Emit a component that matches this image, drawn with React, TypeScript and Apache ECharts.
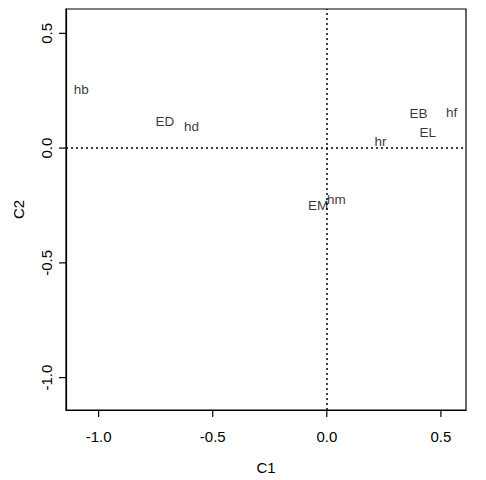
import React, { useEffect, useRef } from "react";
import * as echarts from "echarts";

const labels = ["hb", "ED", "hd", "EB", "hf", "EL", "hr", "EM", "hm"];
const c1 = [-1.076, -0.71, -0.593, 0.402, 0.547, 0.442, 0.235, -0.038, 0.042];
const c2 = [0.257, 0.115, 0.096, 0.149, 0.154, 0.067, 0.028, -0.25, -0.226];
const xTicks = [-1.0, -0.5, 0.0, 0.5];
const yTicks = [-1.0, -0.5, 0.0, 0.5];
const xRange = [-1.143, 0.61];
const yRange = [-1.141, 0.606];

const FONT = "'Liberation Sans', Arial, Helvetica, sans-serif";
const TICK_LEN = 7;

export default function App() {
  const ref = useRef<HTMLDivElement>(null);
  useEffect(() => {
    if (!ref.current) return;
    const chart = echarts.init(ref.current, null, { renderer: "svg" });
    const data = labels.map((n, i) => ({ name: n, value: [c1[i], c2[i]] }));
    const tickStyle = { stroke: "#000", lineWidth: 1.2 };
    chart.setOption({
      animation: false,
      backgroundColor: "#fff",
      textStyle: { fontFamily: FONT, color: "#000" },
      grid: {
        left: 66,
        right: 20,
        top: 9,
        bottom: 70,
        show: true,
        borderColor: "#000",
        borderWidth: 1.2,
        backgroundColor: "transparent",
      },
      xAxis: {
        type: "value",
        min: xRange[0],
        max: xRange[1],
        name: "C1",
        nameLocation: "middle",
        nameGap: 50,
        nameTextStyle: { fontSize: 15, color: "#000", fontFamily: FONT },
        axisLine: { show: true, onZero: false, lineStyle: { color: "#000", width: 1.2 } },
        splitLine: { show: false },
        axisTick: { show: false },
        axisLabel: {
          customValues: xTicks,
          formatter: (v: number) => v.toFixed(1),
          fontSize: 15,
          color: "#000",
          margin: 19,
          fontFamily: FONT,
        },
      },
      yAxis: {
        type: "value",
        min: yRange[0],
        max: yRange[1],
        name: "C2",
        nameLocation: "middle",
        nameGap: 40,
        nameTextStyle: { fontSize: 15, color: "#000", fontFamily: FONT },
        axisLine: { show: true, onZero: false, lineStyle: { color: "#000", width: 1.2 } },
        splitLine: { show: false },
        axisTick: { show: false },
        axisLabel: {
          customValues: yTicks,
          formatter: (v: number) => v.toFixed(1),
          fontSize: 15,
          color: "#000",
          margin: 12,
          rotate: 90,
          fontFamily: FONT,
        },
      },
      series: [
        {
          type: "scatter",
          symbolSize: 1,
          itemStyle: { color: "transparent" },
          data,
          label: {
            show: true,
            position: "inside",
            formatter: (p: any) => p.name,
            fontSize: 13.5,
            color: "#000",
            fontFamily: FONT,
          },
          markLine: {
            silent: true,
            symbol: "none",
            label: { show: false },
            lineStyle: { type: [2, 3], color: "#000", width: 1.5 },
            data: [{ xAxis: 0 }, { yAxis: 0 }],
          },
        },
        {
          type: "custom",
          clip: false,
          silent: true,
          data: xTicks.map((v) => [v, yRange[0]]),
          renderItem: (_p: any, api: any) => {
            const p = api.coord([api.value(0), api.value(1)]);
            return {
              type: "line",
              shape: { x1: p[0], y1: p[1], x2: p[0], y2: p[1] + TICK_LEN },
              style: tickStyle,
            };
          },
        },
        {
          type: "custom",
          clip: false,
          silent: true,
          data: yTicks.map((v) => [xRange[0], v]),
          renderItem: (_p: any, api: any) => {
            const p = api.coord([api.value(0), api.value(1)]);
            return {
              type: "line",
              shape: { x1: p[0], y1: p[1], x2: p[0] - TICK_LEN, y2: p[1] },
              style: tickStyle,
            };
          },
        },
      ],
    });
    return () => chart.dispose();
  }, []);
  return (
    <div
      ref={ref}
      style={{ position: "fixed", left: 0, top: 0, width: 486, height: 480, background: "#fff" }}
    />
  );
}
